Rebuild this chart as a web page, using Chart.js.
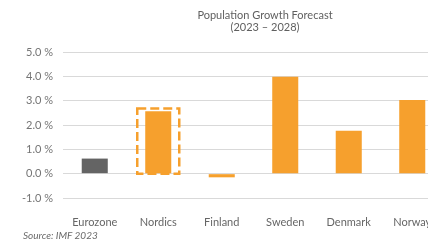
<!DOCTYPE html>
<html>
<head>
<meta charset="utf-8">
<script src="https://cdn.jsdelivr.net/npm/chart.js@4"></script>
<style>
  html, body { margin: 0; padding: 0; background: #fff; overflow: hidden; }
  #wrap { position: relative; width: 445px; height: 244px; }
  #title { position: absolute; left: 165px; top: 9px; width: 200px; text-align: center;
    font: 11px Lato, sans-serif; line-height: 12px; color: #5f5f5f; }
  #source { position: absolute; left: 23px; top: 229px;
    font: italic 10px Lato, sans-serif; color: #6a6a6a; }
</style>
</head>
<body>
<div id="wrap">
  <canvas id="chart" width="445" height="244"></canvas>
  <div id="title">Population Growth Forecast<br>(2023 – 2028)</div>
  <div id="source">Source: IMF 2023</div>
</div>
<script>
const categories = ["Eurozone", "Nordics", "Finland", "Sweden", "Denmark", "Norway"];
const growth = [0.62, 2.57, -0.15, 3.98, 1.76, 3.03];
const barColors = ["#646464", "#F6A02D", "#F6A02D", "#F6A02D", "#F6A02D", "#F6A02D"];
const highlighted = "Nordics";

// caixa tracejada em volta da barra destacada
const dashedBox = {
  id: "dashedBox",
  afterDatasetsDraw(chart) {
    const i = categories.indexOf(highlighted);
    const bar = chart.getDatasetMeta(0).data[i];
    const y = chart.scales.y;
    const { ctx } = chart;
    const left = bar.x - 21;
    const right = bar.x + 21;
    const top = y.getPixelForValue(growth[i] + 0.11);
    const bottom = y.getPixelForValue(0);
    ctx.save();
    ctx.strokeStyle = "#F6A02D";
    ctx.lineWidth = 2.5;
    ctx.setLineDash([9, 4]);
    ctx.strokeRect(left, top, right - left, bottom - top);
    ctx.restore();
  },
};

new Chart(document.getElementById("chart"), {
  type: "bar",
  data: {
    labels: categories,
    datasets: [{ data: growth, backgroundColor: barColors, barPercentage: 0.41, categoryPercentage: 1 }],
  },
  options: {
    responsive: false,
    animation: false,
    layout: { padding: { top: 52, right: 1, left: 0, bottom: 0 } },
    plugins: { legend: { display: false }, tooltip: { enabled: false } },
    scales: {
      x: {
        grid: { display: false },
        border: { display: false },
        ticks: { padding: 10, color: "#666666", font: { family: "Lato", size: 11 } },
        afterFit: (s) => { s.height = 46; },
      },
      y: {
        min: -1,
        max: 5,
        ticks: {
          stepSize: 1,
          padding: 10,
          color: "#747474",
          font: { family: "Lato", size: 11 },
          callback: (v) => v.toFixed(1) + " %",
        },
        grid: { color: "#d9d9d9", lineWidth: 1, drawTicks: false },
        border: { display: false },
        afterFit: (s) => { s.width = 63; },
      },
    },
  },
  plugins: [dashedBox],
});
</script>
</body>
</html>
